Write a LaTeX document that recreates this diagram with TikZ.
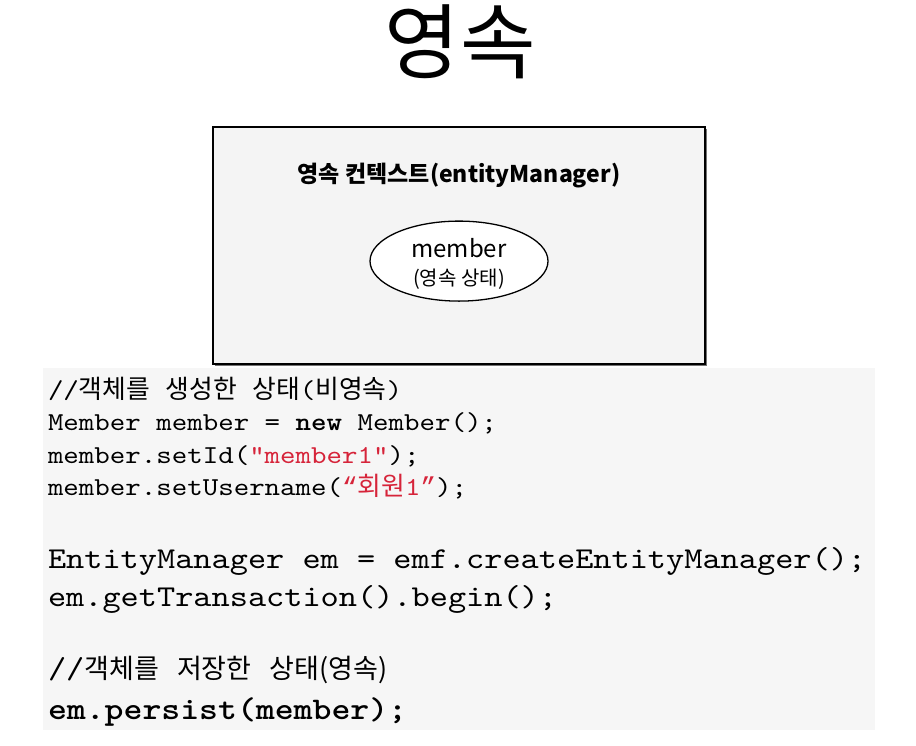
\documentclass[tikz,border=0pt]{standalone}
\usepackage{fontspec}
\setmainfont{Noto Sans CJK KR}
\setmonofont{lmmono10-regular}[Extension=.otf,BoldFont=lmmonolt10-bold,FakeStretch=1.143]
\newfontfamily\kr{Noto Sans CJK KR}
\newfontfamily\qf{Liberation Mono}
\usetikzlibrary{positioning,shapes.geometric,shadows}
\definecolor{strred}{RGB}{214,36,58}
\definecolor{ctxgray}{RGB}{244,244,244}
\definecolor{codegray}{RGB}{246,246,246}
\newcommand\gap{\hspace*{.6em}}
\newcommand\krB{\kr\fontsize{27}{30}\selectfont}
\begin{document}
\begin{tikzpicture}[x=1pt,y=-1pt,
    ctxbox/.style={draw=black,line width=1.8pt,fill=ctxgray,minimum width=492pt,minimum height=237pt,
      drop shadow={shadow xshift=1.5pt,shadow yshift=-1.5pt,fill=black!55,opacity=1}},
    entity/.style={ellipse,draw=black,line width=1.3pt,fill=white,minimum width=178pt,minimum height=80pt},
    codeA/.style={font=\ttfamily\fontsize{25.8}{30}\selectfont,text width=820pt,align=left,inner sep=0pt,
      text height=18pt,text depth=6pt},
    codeB/.style={font=\ttfamily\fontsize{30.3}{34}\selectfont,text width=820pt,align=left,inner sep=0pt,
      text height=22pt,text depth=7pt}]
    \useasboundingbox (0,0) rectangle (916,745);
    \fill[codegray] (43,368) rectangle (875,730);
    \node (T) at (460,72) [anchor=base,inner sep=0pt,font=\fontsize{82}{92}\selectfont] {영속};
    \node (K) at (459,245.5) [ctxbox] {};
    \node (KT) [below=49pt of K.north,anchor=center,font=\bfseries\fontsize{23}{26}\selectfont] {영속 컨텍스트(entityManager)};
    \node (M) [node distance=86pt,below of=KT,entity] {};
    \node (ML) at (M) [yshift=-3pt,align=center,inner sep=0pt,font=\fontsize{24}{27}\selectfont]
        {member\\[1pt]{\fontsize{20}{22}\selectfont(영속 상태)}};
    % code block 1
    \node (C1) at (458,392) [codeA] {//{\kr 객체를}\gap{\kr 생성한}\gap{\kr 상태}({\kr 비영속})};
    \node (C2) [node distance=32.5pt,below of=C1,codeA] {Member\gap member\gap =\gap \textbf{new}\gap Member();};
    \node (C3) [node distance=32.5pt,below of=C2,codeA] {member.setId(\textcolor{strred}{"member1"});};
    \node (C4) [node distance=32.5pt,below of=C3,codeA] {member.setUsername(\textcolor{strred}{{\qf “}{\kr 회원}1{\qf ”}});};
    % code block 2
    \node (E1) [node distance=71pt,below of=C4,codeB] {EntityManager\gap em\gap =\gap emf.createEntityManager();};
    \node (E2) [node distance=38pt,below of=E1,codeB] {em.getTransaction().begin();};
    \node (E3) [node distance=72pt,below of=E2,codeB] {//{\krB 객체를}\gap{\krB 저장한}\gap{\krB 상태(영속)}};
    \node (E4) [node distance=41pt,below of=E3,codeB] {\fontsize{31.5}{34}\selectfont\textbf{em.persist(member);}};
\end{tikzpicture}
\end{document}
